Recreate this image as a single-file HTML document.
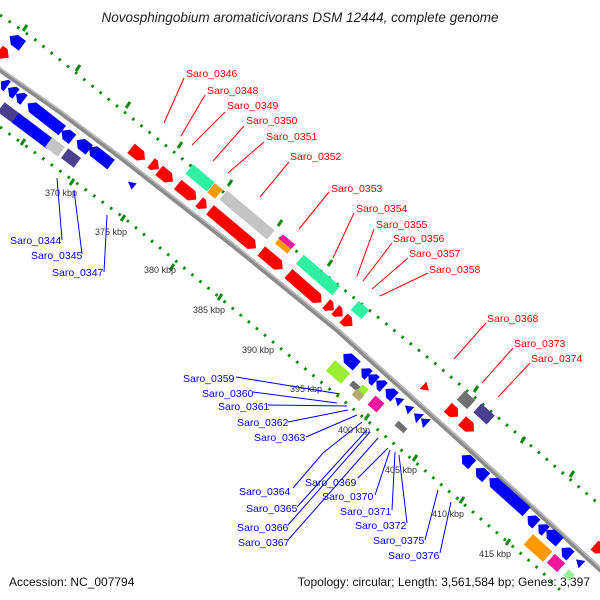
<!DOCTYPE html>
<html><head><meta charset="utf-8"><style>
html,body{margin:0;padding:0;background:#fff;width:600px;height:600px;overflow:hidden}
svg{display:block}
text{font-family:"Liberation Sans",sans-serif}
.r{fill:#ff0000}.b{fill:#0000ff}
.lr{stroke:#ff0000;stroke-width:1;fill:none}
.lb{stroke:#0000ff;stroke-width:1;fill:none}
.tr{fill:#ff0000;font-size:10.5px}
.tb{fill:#0000ff;font-size:10.5px}
.k{fill:#333;font-size:9px}
</style></head><body>
<svg width="600" height="600" viewBox="0 0 600 600" xmlns="http://www.w3.org/2000/svg">
<text x="300" y="22" text-anchor="middle" font-style="italic" font-size="13.5" fill="#222">Novosphingobium aromaticivorans DSM 12444, complete genome</text>

<!-- dotted lines -->
<polyline points="0,15 33,38 437,365 600,505" fill="none" stroke="#118811" stroke-width="3" stroke-dasharray="2.5,8" stroke-linecap="butt"/>
<polyline points="0,127 123,217 363,417 540,570 560,590" fill="none" stroke="#118811" stroke-width="3" stroke-dasharray="2.5,8"/>
<g stroke="#118811" stroke-width="3">
<line x1="23" y1="31" x2="27" y2="25"/><line x1="76" y1="71" x2="80" y2="65"/><line x1="126" y1="108" x2="130" y2="102"/><line x1="178" y1="148" x2="182" y2="142"/><line x1="228" y1="186" x2="232" y2="180"/><line x1="278" y1="226" x2="282" y2="220"/><line x1="328" y1="266" x2="332" y2="260"/><line x1="474" y1="392" x2="478" y2="386"/><line x1="521" y1="443" x2="525" y2="437"/><line x1="570" y1="477" x2="574" y2="471"/>
<line x1="21" y1="145" x2="25" y2="139"/><line x1="70" y1="185" x2="74" y2="179"/><line x1="121" y1="221" x2="125" y2="215"/><line x1="170" y1="270" x2="174" y2="264"/><line x1="218" y1="300" x2="222" y2="294"/><line x1="365" y1="420" x2="369" y2="414"/><line x1="413" y1="461" x2="417" y2="455"/><line x1="460" y1="503" x2="464" y2="497"/><line x1="506" y1="545" x2="510" y2="539"/>
</g>

<!-- backbone -->
<polyline points="-5,66 0,70 60,112 120,157 230,243 337,330 470,450 605,574" fill="none" stroke="#8a8a8a" stroke-width="5" stroke-linejoin="round"/>
<polyline points="-5,64 0,68 60,110 120,155 230,241 337,328 470,448 605,572" fill="none" stroke="#bdbdbd" stroke-width="1.5" stroke-linejoin="round"/>

<!-- genes left top -->
<g transform="translate(16,41) rotate(217)"><polygon class="b" points="-8,-6 2,-6 8,0 2,6 -8,6"/></g>
<g transform="translate(4,54) rotate(37)"><polygon class="r" points="-6,-6 0,-6 6,0 0,6 -6,6"/></g>
<!-- left row1 blue -->
<g class="b">
<g transform="translate(4,84) rotate(217)"><polygon points="-4,-6 -1,-6 4,0 -1,6 -4,6"/></g>
<g transform="translate(12,91) rotate(217)"><polygon points="-5,-6 -1,-6 5,0 -1,6 -5,6"/></g>
<g transform="translate(20,97) rotate(217)"><polygon points="-5,-6 -1,-6 5,0 -1,6 -5,6"/></g>
<g transform="translate(45,117) rotate(218)"><polygon points="-22,-6 16,-6 22,0 16,6 -22,6"/></g>
<g transform="translate(67,135) rotate(218)"><polygon points="-7,-6 1,-6 7,0 1,6 -7,6"/></g>
<g transform="translate(83,145) rotate(218)"><polygon points="-8,-6 2,-6 8,0 2,6 -8,6"/></g>
<g transform="translate(100,156) rotate(218)"><polygon points="-14,-6 8,-6 14,0 8,6 -14,6"/></g>
</g>
<!-- left row2 -->
<g transform="translate(9,113) rotate(37)"><rect x="-10" y="-6" width="20" height="12" fill="#4a3f8f"/></g>
<g transform="translate(33,131) rotate(217)"><polygon class="b" points="-22,-6 22,-6 22,6 -22,6"/></g>
<g transform="translate(55,147) rotate(37)"><rect x="-8" y="-6" width="16" height="12" fill="#c4c4c4"/></g>
<g transform="translate(71,158) rotate(37)"><rect x="-8" y="-6" width="16" height="12" fill="#4a3f8f"/></g>
<g transform="translate(131,184) rotate(219)"><polygon class="b" points="-4,-4 4,0 -4,4"/></g>

<!-- red row mid -->
<g class="r">
<g transform="translate(138,154) rotate(39)"><polygon points="-9,-6 3,-6 9,0 3,6 -9,6"/></g>
<g transform="translate(155,166) rotate(39)"><polygon points="-5,-6 -1,-6 5,0 -1,6 -5,6"/></g>
<g transform="translate(166,176) rotate(39)"><polygon points="-9,-6 3,-6 9,0 3,6 -9,6"/></g>
<g transform="translate(187,192) rotate(39)"><polygon points="-12,-6 6,-6 12,0 6,6 -12,6"/></g>
<g transform="translate(203,205) rotate(40)"><polygon points="-5,-6 -1,-6 5,0 -1,6 -5,6"/></g>
<g transform="translate(233,229) rotate(40)"><polygon points="-30,-6 24,-6 30,0 24,6 -30,6"/></g>
<g transform="translate(272,260) rotate(40)"><polygon points="-14,-6 8,-6 14,0 8,6 -14,6"/></g>
<g transform="translate(305,288) rotate(41)"><polygon points="-22,-6 16,-6 22,0 16,6 -22,6"/></g>
<g transform="translate(330,307) rotate(41)"><polygon points="-5,-6 -1,-6 5,0 -1,6 -5,6"/></g>
<g transform="translate(339,313) rotate(41)"><polygon points="-5,-6 -1,-6 5,0 -1,6 -5,6"/></g>
<g transform="translate(348,322) rotate(41)"><polygon points="-6,-6 0,-6 6,0 0,6 -6,6"/></g>
</g>
<!-- row2 above -->
<g transform="translate(200,178) rotate(40)"><rect x="-14" y="-6" width="28" height="12" fill="#2ef0a0"/></g>
<g transform="translate(215,191) rotate(40)"><rect x="-5" y="-6" width="10" height="12" fill="#ff9900"/></g>
<g transform="translate(247,215) rotate(40)"><rect x="-31" y="-6" width="62" height="12" fill="#c4c4c4"/></g>
<g transform="translate(285,244) rotate(40)"><rect x="-8" y="-6" width="16" height="6" fill="#f0189c"/><rect x="-8" y="0" width="16" height="6" fill="#ff9900"/></g>
<g transform="translate(318,275) rotate(41)"><rect x="-24" y="-6" width="48" height="12" fill="#2ef0a0"/></g>
<g transform="translate(360,310) rotate(41)"><rect x="-7" y="-6" width="14" height="12" fill="#2ef0a0"/></g>

<!-- right blue row -->
<g class="b">
<g transform="translate(350,360) rotate(222)"><polygon points="-9,-6 3,-6 9,0 3,6 -9,6"/></g>
<g transform="translate(365,372) rotate(222)"><polygon points="-5,-6 -1,-6 5,0 -1,6 -5,6"/></g>
<g transform="translate(372,378) rotate(222)"><polygon points="-5,-6 -1,-6 5,0 -1,6 -5,6"/></g>
<g transform="translate(380,384) rotate(222)"><polygon points="-5,-6 -1,-6 5,0 -1,6 -5,6"/></g>
<g transform="translate(390,393) rotate(222)"><polygon points="-6,-6 0,-6 6,0 0,6 -6,6"/></g>
<g transform="translate(398,400) rotate(222)"><polygon points="-4,-5 4,0 -4,5"/></g>
<g transform="translate(408,408) rotate(222)"><polygon points="-4,-5 4,0 -4,5"/></g>
<g transform="translate(417,416) rotate(222)"><polygon points="-4,-6 4,0 -4,6"/></g>
<g transform="translate(424,421) rotate(222)"><polygon points="-4,-6 4,0 -4,6"/></g>
</g>
<g transform="translate(338,372) rotate(41)"><rect x="-10" y="-7" width="20" height="14" fill="#99ee33"/></g>
<g transform="translate(355,386) rotate(41)"><rect x="-5" y="-3" width="10" height="6" fill="#707070"/></g>
<g transform="translate(363,390) rotate(41)"><rect x="-4" y="-4" width="8" height="8" fill="#99ee33"/></g>
<g transform="translate(358,395) rotate(41)"><rect x="-5" y="-4" width="10" height="8" fill="#b5aa70"/></g>
<g transform="translate(376,404) rotate(41)"><rect x="-6" y="-6" width="12" height="12" fill="#f0189c"/></g>
<g transform="translate(401,427) rotate(42)"><rect x="-6" y="-3" width="12" height="6" fill="#707070"/></g>

<!-- right above -->
<g transform="translate(426,388) rotate(42)"><polygon class="r" points="-4,-5 4,0 -4,5"/></g>
<g transform="translate(466,400) rotate(42)"><rect x="-7" y="-6" width="14" height="12" fill="#707070"/></g>
<g transform="translate(484,414) rotate(42)"><rect x="-9" y="-6" width="18" height="12" fill="#4a3f8f"/></g>
<g transform="translate(453,412) rotate(42)"><polygon class="r" points="-7,-6 1,-6 7,0 1,6 -7,6"/></g>
<g transform="translate(468,426) rotate(42)"><polygon class="r" points="-8,-6 2,-6 8,0 2,6 -8,6"/></g>

<!-- right below blue -->
<g class="b">
<g transform="translate(467,460) rotate(222)"><polygon points="-7,-6 1,-6 7,0 1,6 -7,6"/></g>
<g transform="translate(481,473) rotate(222)"><polygon points="-7,-6 1,-6 7,0 1,6 -7,6"/></g>
<g transform="translate(508,495) rotate(222)"><polygon points="-25,-6 19,-6 25,0 19,6 -25,6"/></g>
<g transform="translate(532,520) rotate(222)"><polygon points="-6,-6 0,-6 6,0 0,6 -6,6"/></g>
<g transform="translate(542,528) rotate(222)"><polygon points="-5,-6 -1,-6 5,0 -1,6 -5,6"/></g>
<g transform="translate(553,536) rotate(222)"><polygon points="-9,-6 3,-6 9,0 3,6 -9,6"/></g>
<g transform="translate(566,552) rotate(222)"><polygon points="-6,-6 0,-6 6,0 0,6 -6,6"/></g>
<g transform="translate(579,562) rotate(222)"><polygon points="-4,-5 4,0 -4,5"/></g>
</g>
<g transform="translate(538,548) rotate(42)"><rect x="-13" y="-7" width="26" height="14" fill="#ff9900"/></g>
<g transform="translate(556,563) rotate(42)"><rect x="-7" y="-6" width="14" height="12" fill="#f0189c"/></g>
<g transform="translate(569,575) rotate(42)"><rect x="-4" y="-4" width="8" height="8" fill="#99ee99"/></g>
<g transform="translate(599,549) rotate(42)"><polygon class="r" points="-6,-6 0,-6 6,0 0,6 -6,6"/></g>

<!-- kbp labels -->
<text class="k" x="45" y="196">370 kbp</text>
<text class="k" x="95" y="235">375 kbp</text>
<text class="k" x="144" y="273">380 kbp</text>
<text class="k" x="193" y="313">385 kbp</text>
<text class="k" x="242" y="353">390 kbp</text>
<text class="k" x="290" y="392">395 kbp</text>
<text class="k" x="338" y="433">400 kbp</text>
<text class="k" x="385" y="473">405 kbp</text>
<text class="k" x="432" y="517">410 kbp</text>
<text class="k" x="479" y="557">415 kbp</text>

<!-- red leaders -->
<g class="lr">
<line x1="184" y1="78" x2="164" y2="123"/>
<line x1="205" y1="95" x2="181" y2="136"/>
<line x1="225" y1="112" x2="192" y2="145"/>
<line x1="244" y1="126" x2="213" y2="161"/>
<line x1="264" y1="142" x2="228" y2="173"/>
<line x1="289" y1="162" x2="260" y2="197"/>
<line x1="329" y1="192" x2="299" y2="229"/>
<line x1="354" y1="213" x2="333" y2="258"/>
<line x1="374" y1="229" x2="357" y2="276"/>
<line x1="392" y1="243" x2="363" y2="281"/>
<line x1="408" y1="258" x2="372" y2="289"/>
<line x1="428" y1="273" x2="380" y2="296"/>
<line x1="486" y1="323" x2="454" y2="359"/>
<line x1="513" y1="348" x2="482" y2="383"/>
<line x1="530" y1="363" x2="498" y2="397"/>
</g>
<g>
<text class="tr" x="186" y="77">Saro_0346</text>
<text class="tr" x="207" y="94">Saro_0348</text>
<text class="tr" x="227" y="109">Saro_0349</text>
<text class="tr" x="246" y="124">Saro_0350</text>
<text class="tr" x="266" y="140">Saro_0351</text>
<text class="tr" x="290" y="160">Saro_0352</text>
<text class="tr" x="331" y="192">Saro_0353</text>
<text class="tr" x="356" y="212">Saro_0354</text>
<text class="tr" x="376" y="228">Saro_0355</text>
<text class="tr" x="393" y="242">Saro_0356</text>
<text class="tr" x="409" y="257">Saro_0357</text>
<text class="tr" x="429" y="273">Saro_0358</text>
<text class="tr" x="487" y="322">Saro_0368</text>
<text class="tr" x="514" y="347">Saro_0373</text>
<text class="tr" x="531" y="362">Saro_0374</text>
</g>

<!-- blue leaders -->
<g class="lb">
<line x1="62" y1="240" x2="57" y2="178"/>
<line x1="82" y1="254" x2="74" y2="190"/>
<line x1="104" y1="272" x2="107" y2="215"/>
<line x1="236" y1="377" x2="340" y2="394"/>
<line x1="253" y1="392" x2="337" y2="403"/>
<line x1="268" y1="405" x2="347" y2="406"/>
<line x1="288" y1="422" x2="348" y2="410"/>
<line x1="306" y1="437" x2="357" y2="415"/>
<polyline points="293,488 323,453 362,422"/>
<line x1="297" y1="507" x2="367" y2="430"/>
<line x1="288" y1="525" x2="370" y2="432"/>
<line x1="288" y1="540" x2="378" y2="438"/>
<line x1="358" y1="478" x2="388" y2="448"/>
<line x1="375" y1="495" x2="390" y2="450"/>
<line x1="392" y1="510" x2="395" y2="452"/>
<line x1="407" y1="523" x2="399" y2="455"/>
<line x1="425" y1="540" x2="438" y2="490"/>
<line x1="440" y1="553" x2="451" y2="502"/>
</g>
<g>
<text class="tb" x="10" y="244">Saro_0344</text>
<text class="tb" x="31" y="259">Saro_0345</text>
<text class="tb" x="52" y="276">Saro_0347</text>
<text class="tb" x="183" y="382">Saro_0359</text>
<text class="tb" x="202" y="397">Saro_0360</text>
<text class="tb" x="218" y="410">Saro_0361</text>
<text class="tb" x="237" y="426">Saro_0362</text>
<text class="tb" x="254" y="441">Saro_0363</text>
<text class="tb" x="239" y="495">Saro_0364</text>
<text class="tb" x="246" y="512">Saro_0365</text>
<text class="tb" x="237" y="531">Saro_0366</text>
<text class="tb" x="238" y="546">Saro_0367</text>
<text class="tb" x="305" y="486">Saro_0369</text>
<text class="tb" x="322" y="500">Saro_0370</text>
<text class="tb" x="340" y="515">Saro_0371</text>
<text class="tb" x="355" y="529">Saro_0372</text>
<text class="tb" x="373" y="544">Saro_0375</text>
<text class="tb" x="388" y="559">Saro_0376</text>
</g>

<text x="9" y="586" font-size="12" fill="#111">Accession: NC_007794</text>
<text x="590" y="586" font-size="12" fill="#111" text-anchor="end">Topology: circular; Length: 3,561,584 bp; Genes: 3,397</text>
</svg>
</body></html>
